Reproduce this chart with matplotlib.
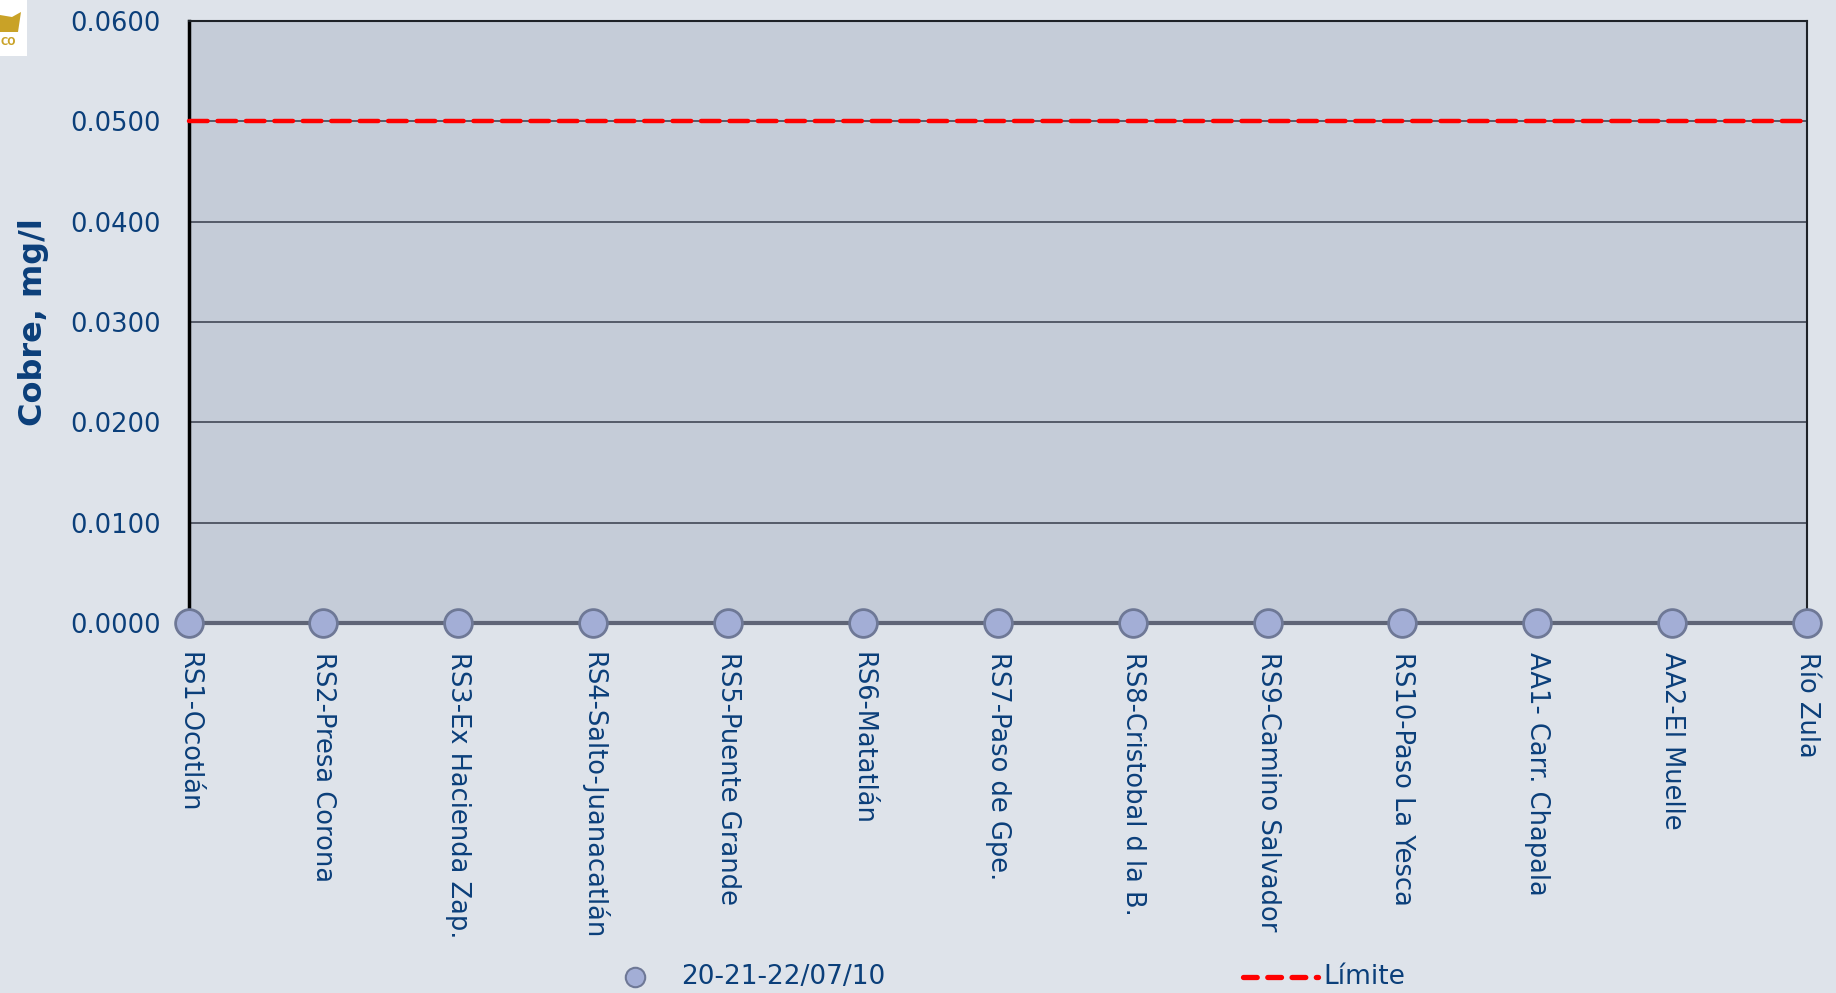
import matplotlib
matplotlib.use("Agg")
import matplotlib.pyplot as plt
from matplotlib.patches import Rectangle, Polygon

# Monitoring stations and measured copper concentrations (mg/l)
stations = [
    "RS1-Ocotlán", "RS2-Presa Corona", "RS3-Ex Hacienda Zap.",
    "RS4-Salto-Juanacatlán", "RS5-Puente Grande", "RS6-Matatlán",
    "RS7-Paso de Gpe.", "RS8-Cristobal d la B.", "RS9-Camino Salvador",
    "RS10-Paso La Yesca", "AA1- Carr. Chapala", "AA2-El Muelle", "Río Zula",
]
cobre = [0.0, 0.0, 0.0, 0.0, 0.0, 0.0, 0.0, 0.0, 0.0, 0.0, 0.0, 0.0, 0.0]
limite = 0.05
yticks = [0.0, 0.01, 0.02, 0.03, 0.04, 0.05, 0.06]
serie_label = "20-21-22/07/10"
limite_label = "Límite"

TEXT = "#0B3F7A"
FIG_BG = "#DEE3EA"
AX_BG = "#C5CCD8"

plt.rcParams["font.family"] = ["DejaVu Sans"]

fig = plt.figure(figsize=(18.36, 9.93), dpi=100, facecolor=FIG_BG)
ax = fig.add_axes([0.1027, 0.3726, 0.8815, 0.6063], facecolor=AX_BG)

x = list(range(len(stations)))
ax.set_xlim(0, len(stations) - 1)
ax.set_ylim(0, 0.06)

for t in yticks[1:]:
    ax.axhline(t, color="#4C5260", lw=1.3, zorder=1)
ax.axhline(0, color="#5F6577", lw=3, zorder=2, clip_on=False)

lim_line, = ax.plot([0, len(stations) - 1 + 0.02], [limite, limite], color="#FF0000",
                    lw=3.2, ls=(0, (4.2, 2.2)), dash_capstyle="round", zorder=3,
                    clip_on=False)
pts, = ax.plot(x, cobre, ls="none", marker="o", ms=20, mfc="#A3AED6",
               mec="#6E7896", mew=2, zorder=5, clip_on=False)

ax.set_yticks(yticks)
ax.set_yticklabels([f"{v:.4f}" for v in yticks], fontsize=18.5, color=TEXT)
ax.set_xticks(x)
ax.set_xticklabels(stations, rotation=-90, fontsize=18.5, color=TEXT,
                   va="top", ha="center")
ax.tick_params(axis="both", length=0)
ax.tick_params(axis="x", pad=21)
ax.tick_params(axis="y", pad=20)

ax.spines["left"].set_linewidth(2.5)
ax.spines["left"].set_color("black")
for s in ("top", "right"):
    ax.spines[s].set_linewidth(1.5)
    ax.spines[s].set_color("#1E2228")
ax.spines["bottom"].set_visible(False)

ax.set_ylabel("Cobre, mg/l", fontsize=23, fontweight="bold", color=TEXT)
ax.yaxis.set_label_coords(-0.086, 0.5)

# Legend row beneath the station names
fig.lines.append(plt.Line2D([635 / 1836], [1 - 977 / 993], transform=fig.transFigure,
                            marker="o", ms=14, mfc="#A3AED6", mec="#6E7896", mew=1.5))
fig.text(681 / 1836, 1 - 977 / 993, serie_label, fontsize=19, color=TEXT,
         va="center", ha="left")
fig.lines.append(plt.Line2D([1243 / 1836, 1318 / 1836], [1 - 977 / 993] * 2,
                            transform=fig.transFigure, color="#FF0000", lw=3.8,
                            ls=(0, (2.6, 2.0)), dash_capstyle="round"))
fig.text(1323 / 1836, 1 - 977 / 993, limite_label, fontsize=19, color=TEXT,
         va="center", ha="left")

# Corner emblem
fig.patches.append(Rectangle((0, 1 - 56 / 993), 27 / 1836, 56 / 993,
                             transform=fig.transFigure, facecolor="white",
                             edgecolor="none"))
fig.patches.append(Polygon([(0, 1 - 32 / 993), (18 / 1836, 1 - 32 / 993),
                            (21 / 1836, 1 - 12 / 993), (12 / 1836, 1 - 17 / 993),
                            (0, 1 - 15 / 993)], closed=True,
                           transform=fig.transFigure, facecolor="#C9A227",
                           edgecolor="none"))
fig.text(8 / 1836, 1 - 42 / 993, "CO", fontsize=7, color="#C9A227",
         fontweight="bold", va="center", ha="center")

fig.savefig("out.png", dpi=100, facecolor=FIG_BG)
